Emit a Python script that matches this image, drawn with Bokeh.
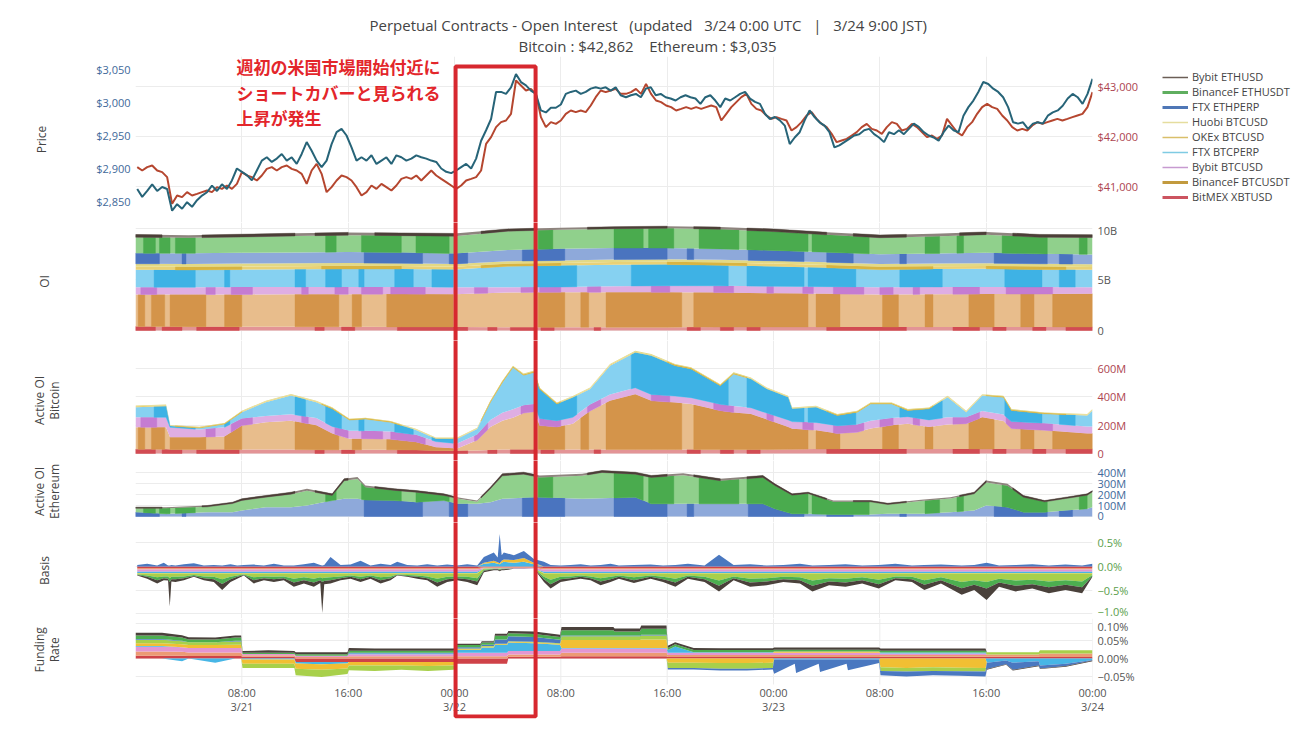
import numpy as np
from bokeh.plotting import figure
from bokeh.layouts import column, row
from bokeh.models import (Range1d, LinearAxis, FixedTicker, NumeralTickFormatter,
                          Legend, LegendItem, Title, Label, BoxAnnotation, Grid)
from bokeh.embed import file_html
from bokeh.resources import INLINE

# ------------------------------------------------------------------ data
# hours since 3/21 00:00 UTC
hour_ticks = [8, 16, 24, 32, 40, 48, 56, 64, 72]
hour_labels = ["08:00\n3/21", "16:00", "00:00\n3/22", "08:00", "16:00",
               "00:00\n3/23", "08:00", "16:00", "00:00\n3/24"]

series_keys = ["bitmex", "binbtc", "bybitbtc", "ftxbtc", "okex", "huobi",
               "ftxeth", "bineth", "bybiteth"]
series_names = ["BitMEX XBTUSD", "BinanceF BTCUSDT", "Bybit BTCUSD", "FTX BTCPERP",
                "OKEx BTCUSD", "Huobi BTCUSD", "FTX ETHPERP", "BinanceF ETHUSDT",
                "Bybit ETHUSD"]

# ---- price (ETH left axis, BTC right axis)
eth_price_a = [2869, 2857, 2866, 2876, 2866, 2872, 2869, 2836, 2846, 2839, 2849, 2842, 2852, 2859,
               2864, 2874, 2866, 2876, 2869, 2882, 2900, 2895, 2890, 2882, 2897, 2912, 2917, 2910,
               2915, 2922, 2912, 2917, 2907, 2922, 2940, 2927, 2912, 2902, 2912, 2937, 2955, 2960,
               2950, 2932, 2912, 2917, 2912, 2920, 2907, 2912, 2917, 2907, 2920, 2917, 2912, 2915,
               2920, 2917, 2915, 2912, 2910, 2900, 2895, 2893, 2897, 2902, 2907, 2900, 2915, 2942,
               2958, 2975, 3016, 3016, 3013, 3023, 3043, 3031, 3026, 3018, 3013, 2988, 2985, 2992,
               2992, 2997, 3013, 3016, 3018, 3013, 3016, 3021, 3023, 3021, 3023, 3018, 3023, 3011]
eth_price_b = [3008, 3011, 3013, 3008, 3021, 3023, 3011, 3013, 3008, 3006, 3003, 3008, 3011, 3008,
               3006, 2998, 3008, 3011, 3003, 2993, 3006, 3003, 3008, 3013, 3016, 3006, 3001, 2998,
               2983, 2975, 2978, 2973, 2965, 2937, 2947, 2955, 2973, 2988, 2978, 2970, 2965, 2955,
               2932, 2935, 2940, 2945, 2950, 2952, 2958, 2960, 2952, 2947, 2940, 2955, 2952, 2958,
               2952, 2960, 2968, 2963, 2955, 2950, 2947, 2942, 2955, 2965, 2958, 2955, 2980, 2993,
               3003, 3016, 3031, 3028, 3021, 3016, 3008, 2993, 2970, 2968, 2970, 2960, 2968, 2970,
               2968, 2980, 2985, 2988, 2995, 3006, 3013, 3008, 2998, 3013, 3036]
btc_price_a = [41387, 41320, 41387, 41420, 41320, 41287, 41187, 40653, 40820, 40787, 40887, 40820,
               40853, 40887, 40920, 40887, 40987, 40953, 41020, 40953, 41053, 41287, 41220, 41187,
               41120, 41220, 41353, 41387, 41320, 41387, 41420, 41353, 41320, 41253, 41053, 41320,
               41453, 41253, 40887, 40987, 41120, 41220, 41187, 41120, 40987, 40820, 40887, 41020,
               40953, 41053, 40987, 40920, 41020, 41153, 41187, 41153, 41220, 41120, 41220, 41320,
               41220, 41153, 41087, 41020, 40953, 41020, 41120, 41153, 41187, 41320, 41853, 41987,
               42187, 42287, 42320, 42453, 43120, 43020, 42920, 42953, 42853, 42387, 42187, 42287,
               42253, 42320, 42453, 42520, 42487, 42520, 42487, 42620, 42787, 42920, 42887, 42920,
               42953, 42853]
btc_price_b = [42853, 42887, 42953, 42853, 43053, 42853, 42720, 42687, 42620, 42587, 42520, 42553,
               42587, 42553, 42587, 42553, 42587, 42620, 42587, 42320, 42453, 42587, 42687, 42787,
               42853, 42653, 42553, 42520, 42420, 42353, 42387, 42353, 42320, 42120, 42187, 42287,
               42420, 42487, 42353, 42253, 42187, 42053, 41887, 41920, 41953, 42020, 42087, 42187,
               42253, 42153, 42120, 42053, 42187, 42287, 42253, 42120, 42153, 42253, 42187, 42087,
               41987, 42020, 41953, 42020, 42353, 42220, 42087, 42020, 42187, 42287, 42453, 42587,
               42653, 42587, 42553, 42420, 42320, 42187, 42120, 42153, 42120, 42220, 42287, 42253,
               42287, 42320, 42353, 42320, 42353, 42387, 42420, 42453, 42587, 42887]

# ---- open interest (billion USD), every 4 hours
oi_hours = [0, 4, 8, 12, 16, 20, 24, 28, 32, 36, 40, 44, 48, 52, 56, 60, 64, 68, 72]
oi_bitmex = [0.39, 0.38, 0.38, 0.37, 0.36, 0.35, 0.35, 0.33, 0.33, 0.33, 0.33, 0.34, 0.35, 0.35, 0.35, 0.35, 0.35, 0.35, 0.35]
oi_binbtc = [3.14, 3.14, 3.16, 3.18, 3.20, 3.22, 3.20, 3.40, 3.43, 3.42, 3.41, 3.38, 3.30, 3.25, 3.18, 3.20, 3.22, 3.22, 3.25]
oi_bybitbtc = [0.72, 0.72, 0.72, 0.71, 0.70, 0.70, 0.70, 0.52, 0.50, 0.60, 0.65, 0.66, 0.68, 0.70, 0.72, 0.72, 0.70, 0.70, 0.65]
oi_ftxbtc = [1.70, 1.70, 1.72, 1.75, 1.78, 1.76, 1.72, 2.05, 2.12, 2.10, 2.08, 2.02, 1.95, 1.85, 1.72, 1.75, 1.78, 1.72, 1.70]
oi_okex = [0.30, 0.30, 0.30, 0.30, 0.30, 0.29, 0.29, 0.25, 0.25, 0.26, 0.26, 0.27, 0.28, 0.28, 0.29, 0.28, 0.28, 0.28, 0.28]
oi_huobi = [0.29, 0.29, 0.29, 0.28, 0.28, 0.27, 0.27, 0.24, 0.24, 0.25, 0.25, 0.26, 0.27, 0.27, 0.27, 0.27, 0.27, 0.27, 0.27]
oi_ftxeth = [1.04, 1.04, 1.05, 1.06, 1.08, 1.06, 1.02, 1.10, 1.14, 1.12, 1.10, 1.07, 1.02, 0.98, 0.95, 0.98, 1.02, 0.98, 0.96]
oi_bineth = [1.57, 1.52, 1.55, 1.62, 1.65, 1.65, 1.70, 1.85, 1.87, 1.90, 1.95, 1.92, 1.85, 1.70, 1.62, 1.66, 1.78, 1.62, 1.66]
oi_bybiteth = [0.26, 0.26, 0.27, 0.27, 0.27, 0.27, 0.27, 0.22, 0.20, 0.20, 0.20, 0.22, 0.25, 0.26, 0.27, 0.27, 0.27, 0.28, 0.28]

# ---- active OI bitcoin (million USD)
act_btc_hours = [0, 2.3, 2.6, 4.8, 6.7, 8.0, 9.8, 11.7, 13.6, 14.8, 16.1, 17.3, 19.2, 21.1, 22.6, 24.2,
                 25.7, 26.7, 27.6, 28.4, 29.2, 30.0, 30.4, 31.7, 32.9, 34.2, 35.7, 37.6, 38.8, 40.6,
                 41.8, 44.0, 45.0, 46.3, 47.5, 49.1, 49.4, 51.2, 52.8, 54.3, 55.3, 56.9, 58.1, 59.7,
                 61.1, 62.5, 63.7, 65.3, 65.9, 68.4, 71.6, 72.0]
act_bitmex = [30, 30, 28, 28, 28, 28, 28, 28, 26, 26, 26, 26, 26, 25, 22, 20, 22, 25, 28, 28, 28, 28, 28, 28, 28, 28,
              28, 28, 28, 28, 28, 28, 28, 28, 28, 30, 30, 32, 32, 32, 32, 32, 32, 32, 32, 32, 32, 32, 32, 32, 32, 32]
act_binbtc = [155, 155, 87, 87, 92, 169, 192, 204, 174, 115, 79, 79, 74, 57, 22, 15, 72, 162, 204, 225, 257, 267,
              169, 159, 182, 272, 344, 391, 344, 332, 321, 274, 262, 250, 212, 157, 145, 132, 109, 118, 144, 168,
              178, 155, 173, 178, 223, 198, 144, 132, 109, 109]
act_bybitbtc = [70, 70, 70, 55, 65, 50, 45, 45, 50, 50, 55, 55, 55, 50, 40, 35, 40, 50, 55, 60, 55, 55, 50, 45, 45, 45,
                45, 45, 45, 45, 45, 45, 45, 45, 45, 50, 50, 55, 55, 55, 55, 50, 50, 50, 50, 45, 45, 45, 50, 50, 50, 50]
act_ftxbtc = [72, 79, 9, 10, 23, 45, 97, 132, 112, 125, 76, 83, 65, 34, 21, 35, 39, 125, 215, 295, 212, 223, 208,
              118, 140, 110, 203, 249, 273, 215, 203, 132, 226, 203, 170, 160, 90, 108, 72, 87, 119, 100, 44, 78,
              142, 37, 109, 122, 78, 66, 77, 113]
act_okex = [6, 6, 4, 4, 4, 5, 5, 6, 5, 5, 5, 5, 5, 4, 4, 4, 4, 5, 6, 6, 6, 6, 5, 5, 5, 5,
            6, 6, 6, 6, 6, 5, 6, 6, 5, 5, 5, 5, 5, 5, 5, 5, 5, 5, 5, 5, 5, 5, 5, 5, 5, 5]
act_huobi = [5, 5, 4, 4, 4, 5, 5, 5, 5, 5, 5, 5, 5, 4, 4, 4, 4, 5, 5, 6, 6, 6, 5, 5, 5, 5,
             6, 6, 6, 6, 5, 5, 6, 5, 5, 5, 5, 5, 5, 5, 5, 5, 5, 5, 5, 5, 5, 5, 5, 5, 5, 5]

# ---- active OI ethereum (million USD)
act_eth_hours = [0, 2.3, 5.4, 7.3, 8.0, 9.8, 11.7, 12.9, 14.8, 15.7, 16.7, 17.3, 19.5, 21.1, 23.2, 24.2, 25.7,
                 26.7, 27.6, 29.2, 30.4, 33.6, 35.1, 37.6, 38.8, 41.2, 44.0, 47.2, 48.1, 49.4, 50.6, 52.5,
                 55.3, 56.6, 59.1, 61.3, 63.1, 64.0, 65.6, 66.8, 68.4, 70.0, 71.6, 72.0]
act_ftxeth = [39, 24, 39, 39, 55, 85, 85, 100, 145, 161, 161, 150, 145, 130, 145, 115, 115, 130, 161, 170, 176, 161,
              165, 176, 115, 115, 115, 115, 70, 24, 24, 18, 18, 24, 24, 39, 55, 100, 85, 39, 39, 55, 70, 85]
act_bineth = [36, 51, 49, 79, 91, 91, 118, 134, 46, 164, 179, 117, 92, 91, 46, 49, 18, 122, 209, 215, 179, 209,
              235, 209, 240, 261, 210, 240, 212, 170, 185, 115, 115, 85, 116, 125, 151, 209, 194, 137, 94, 109,
              124, 139]
act_bybiteth = [10, 10, 12, 12, 15, 15, 18, 18, 15, 18, 18, 15, 15, 15, 15, 12, 12, 15, 18, 18, 18, 18, 18, 18, 18,
                18, 18, 18, 15, 12, 12, 12, 12, 12, 12, 12, 15, 18, 18, 15, 12, 12, 12, 12]

# ---- basis (%)
basis_hours = [0.13, 0.88, 1.63, 2.13, 2.45, 2.58, 2.70, 3.01, 3.64, 4.39, 5.14, 5.89, 6.52, 7.15, 7.65, 8.15,
               8.90, 9.66, 10.41, 11.16, 11.91, 12.67, 13.42, 13.90, 14.05, 14.20, 14.67, 15.43, 16.18, 16.93,
               17.68, 18.44, 19.19, 19.69, 20.44, 21.20, 21.95, 22.70, 23.45, 24.20, 24.96, 25.71, 26.21, 26.96,
               27.25, 27.40, 27.55, 27.71, 28.47, 29.22, 29.97, 30.73, 31.23, 31.98, 32.73, 33.49, 34.24, 34.99,
               35.74, 36.37, 37.50, 38.75, 39.69, 40.62, 41.56, 42.81, 43.90, 45.00, 46.24, 47.49, 48.74, 49.99,
               50.93, 52.18, 53.42, 54.67, 55.92, 57.17, 58.42, 59.35, 60.60, 62.16, 63.10, 64.03, 64.97, 66.22,
               67.47, 68.72, 69.97, 71.22, 72.00]
basis_low = [-0.19, -0.26, -0.36, -0.29, -0.30, -0.85, -0.32, -0.33, -0.29, -0.22, -0.29, -0.33, -0.50, -0.33,
             -0.26, -0.19, -0.36, -0.29, -0.33, -0.29, -0.43, -0.36, -0.43, -0.35, -0.99, -0.38, -0.36, -0.29,
             -0.26, -0.33, -0.26, -0.36, -0.29, -0.19, -0.22, -0.26, -0.29, -0.43, -0.33, -0.29, -0.33, -0.40,
             -0.12, -0.08, -0.08, -0.10, -0.08, -0.08, -0.05, -0.05, -0.04, -0.33, -0.47, -0.33, -0.29, -0.26,
             -0.29, -0.40, -0.33, -0.26, -0.35, -0.26, -0.33, -0.43, -0.26, -0.33, -0.53, -0.29, -0.43, -0.40,
             -0.33, -0.36, -0.53, -0.40, -0.43, -0.36, -0.47, -0.29, -0.33, -0.50, -0.36, -0.60, -0.50, -0.71,
             -0.43, -0.53, -0.47, -0.57, -0.50, -0.57, -0.22]
basis_bitmex = [-0.03] * 42 + [-0.02] * 9 + [-0.03] * 40
basis_binbtc = [-0.035] * 42 + [-0.01] * 9 + [-0.035] * 40
basis_bybitbtc = [-0.045] * 42 + [-0.01] * 9 + [-0.045] * 40
basis_ftxbtc = [-0.03] * 42 + [0.06, 0.08, 0.06, 0.05, 0.08, 0.10, 0.08, 0.10, 0.05] + [-0.03] * 40
basis_okex = [-0.01] * 42 + [0.02, 0.04, 0.03, 0.02, 0.04, 0.05, 0.06, 0.08, 0.03] + [-0.01] * 40
basis_huobi = [-0.02, -0.04, -0.08, -0.06, -0.06, -0.10, -0.07, -0.07, -0.06, -0.03, -0.06, -0.07, -0.12, -0.07,
               -0.04, -0.02, -0.08, -0.06, -0.07, -0.06, -0.11, -0.08, -0.11, -0.08, -0.10, -0.09, -0.08, -0.06,
               -0.04, -0.07, -0.04, -0.08, -0.06, -0.02, -0.03, -0.04, -0.06, -0.11, -0.07, -0.06, -0.07, -0.10,
               -0.03, -0.01, -0.01, -0.02, -0.01, -0.01, 0.0, 0.0, 0.0, -0.07, -0.13, -0.07, -0.06, -0.04, -0.06,
               -0.10, -0.07, -0.04, -0.08, -0.04, -0.07, -0.11, -0.04, -0.07, -0.15, -0.06, -0.11, -0.10, -0.07,
               -0.08, -0.15, -0.10, -0.11, -0.08, -0.13, -0.06, -0.07, -0.14, -0.08, -0.18, -0.14, -0.18, -0.11,
               -0.15, -0.13, -0.17, -0.14, -0.17, -0.03]
basis_ftxeth = [0.03, 0.06, 0.02, 0.08, 0.02, 0.02, 0.03, 0.02, 0.05, 0.07, 0.02, 0.03, 0.02, 0.05, 0.02, 0.03,
                0.04, 0.02, 0.06, 0.02, 0.02, 0.05, 0.08, 0.03, 0.02, 0.03, 0.20, 0.03, 0.04, 0.12, 0.02, 0.06,
                0.03, 0.10, 0.03, 0.02, 0.05, 0.02, 0.04, 0.02, 0.05, 0.02, 0.12, 0.18, 0.10, 0.62, 0.12, 0.15,
                0.10, 0.15, 0.08, 0.10, 0.03, 0.02, 0.03, 0.05, 0.02, 0.03, 0.06, 0.02, 0.03, 0.04, 0.02, 0.03,
                0.06, 0.02, 0.25, 0.03, 0.05, 0.02, 0.03, 0.06, 0.02, 0.03, 0.05, 0.02, 0.03, 0.06, 0.02, 0.03,
                0.04, 0.02, 0.03, 0.08, 0.02, 0.03, 0.05, 0.02, 0.04, 0.02, 0.06]
basis_bineth = [-0.01, -0.03, -0.06, -0.04, -0.05, -0.08, -0.05, -0.05, -0.04, -0.02, -0.04, -0.05, -0.10, -0.05,
                -0.03, -0.01, -0.06, -0.04, -0.05, -0.04, -0.08, -0.06, -0.08, -0.06, -0.08, -0.07, -0.06, -0.04,
                -0.03, -0.05, -0.03, -0.06, -0.04, -0.01, -0.02, -0.03, -0.04, -0.08, -0.05, -0.04, -0.05, -0.07,
                -0.02, -0.01, -0.01, -0.02, -0.01, -0.01, 0.0, 0.0, 0.0, -0.05, -0.10, -0.05, -0.04, -0.03, -0.04,
                -0.07, -0.05, -0.03, -0.06, -0.03, -0.05, -0.08, -0.03, -0.05, -0.11, -0.04, -0.08, -0.07, -0.05,
                -0.06, -0.11, -0.07, -0.08, -0.06, -0.10, -0.04, -0.05, -0.10, -0.06, -0.13, -0.10, -0.14, -0.08,
                -0.11, -0.10, -0.12, -0.10, -0.12, -0.02]

# ---- funding rate (%)
fund_hours = [0, 2, 3.5, 4, 6, 7.5, 7.95, 8.05, 10, 11.95, 12.05, 14, 15.95, 16.05, 18, 20, 22, 23.95, 24.05,
              25.95, 26.05, 26.95, 27.05, 27.95, 28.05, 30, 31.95, 32.05, 34, 35.95, 36.05, 37.95, 38.05, 39.95,
              40.05, 40.6, 42, 44, 46, 47.95, 48.05, 49.6, 49.7, 51.4, 51.5, 53.5, 53.6, 55.95, 56.05, 58, 60,
              62, 63.95, 64.05, 65.5, 66, 67.95, 68.05, 70, 72]
fund_bitmex = [.008, .008, .008, .007, .007, .007, .007, .005, .005, .005, -.01, -.01, -.01, -.01, -.01, -.01,
               -.01, -.01, -.015, -.015, -.015, -.015, -.015, -.015, .005, .005, .005, .006, .006, .006, .006,
               .006, .006, .006, .004, .004, .004, .004, .004, .004, .004, .004, .004, .004, .004, .004, .004,
               .004, .005, .005, .005, .005, .005, .005, .005, .005, .005, .004, .004, .004]
fund_binbtc = [.012, .012, .011, .01, .01, .01, .01, .004, .004, .004, .004, .004, .004, .006, .006, .006, .006,
               .006, .006, .006, .006, .006, .006, .006, .006, .006, .006, .01, .01, .01, .01, .01, .01, .01,
               .006, .006, .006, .006, .006, .006, .006, .006, .006, .006, .006, .006, .006, .006, .005, .005,
               .005, .005, .005, .006, .006, .006, .006, .01, .01, .01]
fund_bybitbtc = [.013, .013, .013, .013, .013, .013, .013, .004, .004, .004, .004, .004, .004, .006, .006, .006,
                 .006, .006, .01, .01, .01, .01, .01, .01, .01, .01, .01, .012, .012, .012, .012, .012, .012,
                 .012, .006, .006, .006, .006, .006, .006, .006, .006, .006, .006, .006, .006, .006, .006, .004,
                 .004, .004, .004, .004, 0, 0, 0, 0, 0, 0, 0]
fund_ftxbtc = [.002, .002, -.008, 0, -.012, 0, 0, -.003, -.003, -.003, -.004, -.006, -.004, .002, .002, .002,
               .002, .002, .008, .008, .015, .015, .022, .022, .024, .022, .018, .002, .002, .002, .002, .002,
               .002, .002, .008, .018, .002, .002, .002, .002, -.003, -.003, -.003, -.003, -.003, -.003, -.003,
               -.003, .003, .003, .003, .003, .003, -.012, -.006, -.012, -.008, -.02, -.015, -.004]
fund_okex = [.008, .008, .008, .008, .008, .009, .009, -.012, -.012, -.012, -.015, -.016, -.014, -.01, -.01, -.01,
             -.011, -.01, .002, .002, .002, .002, .002, .002, .002, .002, .002, .022, .022, .022, .022, .022,
             .024, .024, -.012, -.012, -.012, -.013, -.013, -.012, .004, .004, .004, .004, .004, .004, .004,
             .004, -.025, -.027, -.025, -.026, -.027, 0, 0, 0, 0, 0, 0, 0]
fund_huobi = [.01, .01, .009, .008, .008, .009, .009, -.012, -.012, -.012, -.018, -.02, -.016, -.013, -.015, -.012,
              -.014, -.012, .002, .002, .002, .002, .002, .002, .002, .002, .002, .011, .011, .011, .011, .011,
              .011, .011, -.015, -.015, -.015, -.016, -.016, -.015, 0, 0, 0, 0, 0, 0, 0, 0, -.01, -.01, -.01,
              -.01, -.01, .007, .007, .007, .007, .009, .009, .009]
fund_ftxeth = [.002, .002, .001, 0, 0, .002, .002, 0, 0, 0, 0, 0, 0, .002, .002, .002, .002, .002, .004, .004,
               .004, .004, .012, .012, .014, .014, .01, .002, .002, .002, .002, .002, .002, .002, -.004, -.004,
               -.004, -.005, -.005, -.004, -.04, -.012, -.038, -.012, -.035, -.012, -.03, -.01, -.012, -.014,
               -.012, -.013, -.014, -.018, -.01, -.02, -.012, -.008, -.006, -.002]
fund_bineth = [.01, .01, .009, .008, .008, .009, .009, .003, .003, .003, .004, .004, .004, .006, .006, .006, .006,
               .006, .006, .006, .006, .006, .01, .01, .008, .008, .008, .015, .015, .015, .011, .011, .017, .017,
               .006, .006, .006, .006, .006, .006, .005, .005, .005, .005, .005, .005, .005, .005, .005, .005,
               .005, .005, .005, 0, 0, 0, 0, 0, 0, 0]
fund_bybiteth = [.008, .008, .007, .006, .005, .006, .006, .005, .007, .005, .006, .006, .006, .008, .006, .006,
                 .006, .006, .004, .004, .004, .004, .006, .006, .007, .007, .006, .009, .009, .009, .009, .009,
                 .009, .009, .006, .006, .006, .005, .005, .005, .006, .006, .006, .006, .006, .006, .006, .006,
                 .006, .006, .006, .006, .006, -.002, -.002, -.002, -.002, -.002, -.002, -.002]

# hour intervals where each series is drawn in its darker shade (OI / active OI panels)
BANDS = {
    "bitmex": [(0.0, 1.5), (2.0, 3.5), (4.6, 7.8), (13.5, 14.2), (15.5, 16.5), (19.7, 25.0), (26.5, 27.2),
               (28.2, 30.0), (30.5, 31.5), (34.5, 35.0), (41.5, 42.5), (44.0, 45.0), (46.0, 47.0), (52.0, 58.0),
               (61.5, 63.5), (64.5, 65.5), (67.5, 68.5), (70.0, 72.0)],
    "binbtc": [(0.2, 0.7), (1.2, 2.2), (2.6, 5.3), (6.7, 8.0), (12.0, 15.3), (16.3, 17.0), (18.9, 23.9),
               (30.3, 32.3), (33.5, 34.1), (35.4, 41.1), (42.0, 50.6), (51.2, 53.0), (56.2, 57.4), (59.4, 60.0),
               (62.7, 64.6), (66.6, 67.6), (69.0, 72.0)],
    "bybitbtc": [(0.4, 1.6), (5.3, 6.0), (7.2, 8.8), (12.5, 13.0), (15.0, 16.0), (17.0, 18.6), (19.2, 21.8),
                 (25.5, 26.5), (29.0, 30.2), (30.4, 32.0), (34.0, 35.0), (38.8, 40.2), (43.5, 45.0),
                 (47.5, 48.0), (50.2, 51.0), (52.5, 54.8), (56.0, 57.0), (58.5, 59.0), (61.5, 63.5), (65.5, 69.0)],
    "ftxbtc": [(1.4, 4.5), (6.7, 7.1), (12.0, 12.8), (14.3, 15.5), (16.8, 17.2), (19.5, 20.9), (22.3, 23.9),
               (30.1, 33.2), (37.3, 44.6), (46.0, 50.3), (50.6, 54.2), (57.5, 60.7), (65.4, 68.2), (69.5, 70.7)],
    "okex": [(3.0, 8.0), (14.0, 20.0), (26.0, 32.0), (40.0, 46.0), (52.0, 60.0), (64.0, 70.0)],
    "ftxeth": [(0.0, 1.8), (3.5, 3.8), (17.2, 21.6), (23.6, 25.0), (29.1, 32.3), (36.0, 40.0), (41.5, 42.0),
               (46.1, 50.3), (52.0, 54.0), (57.5, 58.0), (64.6, 68.6), (69.5, 70.5)],
    "bineth": [(0.6, 1.5), (1.8, 2.6), (3.0, 4.5), (14.3, 15.1), (17.0, 20.0), (21.1, 23.6), (30.3, 31.4),
               (36.0, 38.2), (38.6, 40.5), (42.4, 45.4), (46.0, 50.6), (50.9, 55.2), (59.4, 60.5), (61.8, 62.3),
               (65.2, 68.6), (71.0, 71.6)],
    "bybiteth": [(0.0, 2.0), (5.0, 12.0), (13.5, 16.0), (18.0, 24.0), (26.0, 30.0), (34.0, 40.0), (42.0, 44.0),
                 (46.0, 52.0), (54.0, 58.0), (62.0, 64.0), (66.0, 72.0)],
}

# ------------------------------------------------------------------ style
FONT = "Open Sans"
GRID_COLOR = "#ececec"
FRAME_W = 957
BORDER_L, BORDER_R = 135, 199
HL_COLOR = "#d7282f"
HL_LEFT, HL_RIGHT = 24.08, 30.1
ETH_BLUE = "#41699a"
BTC_RED = "#ad4450"
TEXT_GRAY = "#444444"

SHADES = {  # (dark, light)
    "bitmex": ("#d24b53", "#e39496"),
    "binbtc": ("#d4944a", "#e8bd8c"),
    "bybitbtc": ("#c57cd2", "#dfaee3"),
    "ftxbtc": ("#3eb2e5", "#86d1f1"),
    "okex": ("#d8b441", "#e9d176"),
    "huobi": ("#e3d985", "#e3d985"),
    "ftxeth": ("#4a74bf", "#8ea9da"),
    "bineth": ("#4aab4e", "#90d08c"),
    "bybiteth": ("#4c3f38", "#8e847e"),
}
FLAT = {
    "bitmex": "#cf4248", "binbtc": "#ec9a74", "bybitbtc": "#e396d2", "ftxbtc": "#47b6e6",
    "okex": "#f1bf33", "huobi": "#a8d04b", "ftxeth": "#4a78c0", "bineth": "#4cae50", "bybiteth": "#4a413b",
}
LEGEND_STYLE = {
    "Bybit ETHUSD": ("#6b5e56", 1.5), "BinanceF ETHUSDT": ("#5fae5f", 3), "FTX ETHPERP": ("#4f77b6", 3),
    "Huobi BTCUSD": ("#e5dd9e", 1.5), "OKEx BTCUSD": ("#d9bf6a", 1.5), "FTX BTCPERP": ("#7fcbe3", 1.5),
    "Bybit BTCUSD": ("#c79ad0", 1.5), "BinanceF BTCUSDT": ("#c29a3e", 3), "BitMEX XBTUSD": ("#cc5460", 3),
}

X_RANGE = Range1d(0, 72)


def base_fig(frame_h, y0, y1, top=0, bottom=0, right=BORDER_R, vgrid=True, **kw):
    p = figure(frame_width=FRAME_W, frame_height=frame_h, x_range=X_RANGE,
               y_range=Range1d(y0, y1), x_axis_location=None, y_axis_location=None,
               toolbar_location=None, output_backend="svg",
               min_border_left=BORDER_L, min_border_right=right,
               min_border_top=top, min_border_bottom=bottom,
               outline_line_color=None, background_fill_color="white",
               border_fill_color="white", **kw)
    p.center = [c for c in p.center if not isinstance(c, Grid)]
    if vgrid:
        p.add_layout(Grid(dimension=0, ticker=FixedTicker(ticks=hour_ticks),
                          grid_line_color=GRID_COLOR, grid_line_width=1))
    return p


def style_axis(ax, color):
    ax.axis_line_color = None
    ax.major_tick_line_color = None
    ax.minor_tick_line_color = None
    ax.major_tick_out = 0
    ax.major_tick_in = 0
    ax.major_label_text_font = FONT
    ax.major_label_text_font_size = "11px"
    ax.major_label_text_color = color
    ax.major_label_standoff = 5
    ax.axis_label_text_font = FONT
    ax.axis_label_text_font_size = "12px"
    ax.axis_label_text_font_style = "normal"
    ax.axis_label_text_color = TEXT_GRAY
    ax.axis_label_text_line_height = 0.83


def side_label(p, text, standoff):
    ax = LinearAxis(ticker=FixedTicker(ticks=[]), axis_label=text)
    style_axis(ax, TEXT_GRAY)
    ax.major_label_standoff = 0
    ax.axis_label_standoff = standoff
    p.add_layout(ax, "left")


def right_axis(p, ticks, labels, color):
    ax = LinearAxis(ticker=FixedTicker(ticks=ticks),
                    major_label_overrides=dict(zip(ticks, labels)))
    style_axis(ax, color)
    p.add_layout(ax, "right")
    p.add_layout(Grid(dimension=1, ticker=FixedTicker(ticks=ticks),
                      grid_line_color=GRID_COLOR, grid_line_width=1))


def highlight(p, top, bottom):
    p.add_layout(BoxAnnotation(left=HL_LEFT, right=HL_RIGHT, top=top, bottom=bottom,
                               fill_color=None, fill_alpha=0, line_color=HL_COLOR,
                               line_alpha=1.0, line_width=4, level="overlay"))


def band_patches(t, lo, hi, spans):
    xs, ys = [], []
    for a, b in spans:
        a, b = max(a, t[0]), min(b, t[-1])
        if b <= a:
            continue
        inner = t[(t > a) & (t < b)]
        xx = np.concatenate([[a], inner, [b]])
        l = np.interp(xx, t, lo)
        h = np.interp(xx, t, hi)
        xs.append(list(np.concatenate([xx, xx[::-1]])))
        ys.append(list(np.concatenate([h, l[::-1]])))
    return xs, ys


def stacked(p, t, layers):
    t = np.asarray(t, float)
    base = np.zeros_like(t)
    for key, vals in layers:
        top = base + np.asarray(vals, float)
        dark, light = SHADES[key]
        p.varea(x=t, y1=base, y2=top, fill_color=light)
        if key in BANDS:
            xs, ys = band_patches(t, base, top, BANDS[key])
            if xs:
                p.patches(xs, ys, fill_color=dark, line_color=dark, line_width=0.4)
        base = top


def signed_stack(p, t, layers):
    t = np.asarray(t, float)
    pos = np.zeros_like(t)
    neg = np.zeros_like(t)
    for key, vals in layers:
        v = np.asarray(vals, float)
        pv, nv = np.clip(v, 0, None), np.clip(v, None, 0)
        if pv.any():
            p.varea(x=t, y1=pos, y2=pos + pv, fill_color=FLAT[key])
            pos = pos + pv
        if nv.any():
            p.varea(x=t, y1=neg, y2=neg + nv, fill_color=FLAT[key])
            neg = neg + nv


# ------------------------------------------------------------------ price panel
eth_t = np.concatenate([np.linspace(0.13, 36.5, len(eth_price_a)), np.linspace(36.9, 72, len(eth_price_b))])
btc_t = np.concatenate([np.linspace(0.13, 36.5, len(btc_price_a)), np.linspace(36.9, 72, len(btc_price_b))])
eth_vals = eth_price_a + eth_price_b
btc_vals = btc_price_a + btc_price_b

NB = "\u00a0"
TITLE_1 = f"Perpetual Contracts - Open Interest {NB}{NB}(updated {NB}{NB}3/24 0:00 UTC {NB}{NB}| {NB}{NB}3/24 9:00 JST)"
TITLE_2 = f"Bitcoin : $42,862 {NB}{NB}{NB}Ethereum : $3,035"

p_price = base_fig(166, 2818.2, 3069.7, top=56, right=60, title=TITLE_1)
p_price.title.align = "left"
p_price.title.offset = 234
p_price.title.text_font = FONT
p_price.title.text_font_size = "15px"
p_price.title.text_font_style = "normal"
p_price.title.text_color = TEXT_GRAY
p_price.title.standoff = -4
p_price.add_layout(Title(text=TITLE_2, align="left", offset=383, text_font=FONT,
                         text_font_size="15px", text_font_style="normal",
                         text_color=TEXT_GRAY, standoff=2), "above")
p_price.extra_y_ranges = {"btc": Range1d(40280, 43600)}

eth_ticks = [2850, 2900, 2950, 3000, 3050]
btc_ticks = [41000, 42000, 43000]
ax_eth = LinearAxis(ticker=FixedTicker(ticks=eth_ticks), formatter=NumeralTickFormatter(format="$0,0"),
                    axis_label="Price")
style_axis(ax_eth, ETH_BLUE)
ax_eth.axis_label_standoff = 43
p_price.add_layout(ax_eth, "left")
ax_btc = LinearAxis(y_range_name="btc", ticker=FixedTicker(ticks=btc_ticks),
                    formatter=NumeralTickFormatter(format="$0,0"))
style_axis(ax_btc, BTC_RED)
p_price.add_layout(ax_btc, "right")
p_price.add_layout(Grid(dimension=1, ticker=FixedTicker(ticks=btc_ticks), y_range_name="btc",
                        grid_line_color=GRID_COLOR, grid_line_width=1))

p_price.line(btc_t, btc_vals, line_color="#b5462f", line_width=2, y_range_name="btc")
p_price.line(eth_t, eth_vals, line_color="#276478", line_width=2)

NOTE_X = 7.6
note_lines = ["週初の米国市場開始付近に", "ショートカバーと見られる", "上昇が発生"]
note_y = [3053.8, 3015.9, 2978.0]
for txt, yv in zip(note_lines, note_y):
    p_price.add_layout(Label(x=NOTE_X, y=yv, text=txt, text_font="Noto Sans CJK JP",
                             text_font_size="17px", text_font_style="bold",
                             text_color="#e3262b", text_baseline="middle"))
highlight(p_price, 3054.5, 2000)

# legend sits in its own narrow figure to the right of the price panel
p_leg = figure(frame_width=145, frame_height=166, x_range=Range1d(0, 1), y_range=Range1d(0, 1),
               x_axis_location=None, y_axis_location=None, toolbar_location=None,
               output_backend="svg", min_border_left=0, min_border_right=0, min_border_top=56,
               min_border_bottom=0, outline_line_color=None, title_location=None,
               background_fill_color="white", border_fill_color="white")
p_leg.center = [c for c in p_leg.center if not isinstance(c, Grid)]
legend_items = []
for name in reversed(series_names):
    col, w = LEGEND_STYLE[name]
    # sample line kept outside the visible range: it only feeds the legend swatch
    r = p_leg.line([5, 6], [5, 5], line_color=col, line_width=w)
    legend_items.append(LegendItem(label=name, renderers=[r]))
legend = Legend(items=legend_items, location=(7, 15), padding=3, margin=0, spacing=0,
                glyph_width=26, glyph_height=14, label_height=14, label_standoff=4,
                label_text_font=FONT, label_text_font_size="11px", label_text_color=TEXT_GRAY,
                border_line_alpha=0, background_fill_alpha=0)
p_leg.add_layout(legend)

# ------------------------------------------------------------------ OI panel
p_oi = base_fig(118, -0.98, 10.59, title_location=None)
side_label(p_oi, "OI", 83)
right_axis(p_oi, [0, 5, 10], ["0", "5B", "10B"], "#555555")
oi_vals = [oi_bitmex, oi_binbtc, oi_bybitbtc, oi_ftxbtc, oi_okex, oi_huobi, oi_ftxeth, oi_bineth, oi_bybiteth]
stacked(p_oi, oi_hours, list(zip(series_keys, oi_vals)))
highlight(p_oi, 100, -100)

# ------------------------------------------------------------------ active OI bitcoin
p_ab = base_fig(120, -49.4, 797.6, title_location=None)
side_label(p_ab, "Active OI\nBitcoin", 73)
right_axis(p_ab, [0, 200, 400, 600], ["0", "200M", "400M", "600M"], BTC_RED)
ab_vals = [act_bitmex, act_binbtc, act_bybitbtc, act_ftxbtc, act_okex, act_huobi]
stacked(p_ab, act_btc_hours, list(zip(series_keys[:6], ab_vals)))
highlight(p_ab, 5000, -5000)

# ------------------------------------------------------------------ active OI ethereum
p_ae = base_fig(62, -54.5, 509.1, title_location=None)
side_label(p_ae, "Active OI\nEthereum", 73)
right_axis(p_ae, [0, 100, 200, 300, 400], ["0", "100M", "200M", "300M", "400M"], ETH_BLUE)
stacked(p_ae, act_eth_hours, [("ftxeth", act_ftxeth), ("bineth", act_bineth), ("bybiteth", act_bybiteth)])
highlight(p_ae, 5000, -5000)

# ------------------------------------------------------------------ basis
p_basis = base_fig(96, -1.106, 0.936, title_location=None)
side_label(p_basis, "Basis", 83)
right_axis(p_basis, [-1.0, -0.5, 0.0, 0.5], ["\u22121.0%", "\u22120.5%", "0.0%", "0.5%"], "#5a9e4b")
basis_parts = [basis_bitmex, basis_binbtc, basis_bybitbtc, basis_ftxbtc, basis_okex,
               basis_huobi, basis_ftxeth, basis_bineth]
neg_known = np.sum([np.clip(np.asarray(v, float), None, 0) for v in basis_parts], axis=0)
basis_bybiteth = list(np.minimum(np.asarray(basis_low, float) - neg_known, 0))
signed_stack(p_basis, basis_hours, list(zip(series_keys, basis_parts + [basis_bybiteth])))
highlight(p_basis, 50, -50)

# ------------------------------------------------------------------ funding rate
FUND_LO, FUND_HI = -0.0734, 0.11299
p_fund = base_fig(100, -0.1695, FUND_HI, bottom=4, vgrid=False, title_location=None)
p_fund.segment(x0=hour_ticks, y0=[FUND_LO] * len(hour_ticks), x1=hour_ticks,
               y1=[FUND_HI] * len(hour_ticks), line_color=GRID_COLOR, line_width=1, level="underlay")
# leading no-break spaces lift the rotated label to the centre of the plotted band
PAD = NB * 12
side_label(p_fund, f"{PAD}Funding\n{PAD}Rate", 73)
right_axis(p_fund, [-0.05, 0.0, 0.05, 0.1], ["\u22120.05%", "0.00%", "0.05%", "0.10%"], "#555555")
fund_vals = [fund_bitmex, fund_binbtc, fund_bybitbtc, fund_ftxbtc, fund_okex, fund_huobi,
             fund_ftxeth, fund_bineth, fund_bybiteth]
signed_stack(p_fund, fund_hours, list(zip(series_keys, fund_vals)))
ax_x = LinearAxis(ticker=FixedTicker(ticks=hour_ticks),
                  major_label_overrides=dict(zip(hour_ticks, hour_labels)))
style_axis(ax_x, "#555555")
ax_x.major_label_text_line_height = 0.95
ax_x.major_label_standoff = -34
p_fund.add_layout(ax_x, "below")
highlight(p_fund, 5, -0.1638)

layout = column(row(p_price, p_leg, spacing=0), p_oi, p_ab, p_ae, p_basis, p_fund, spacing=0)
open("out.html", "w").write(file_html(layout, INLINE, title="Perpetual Contracts - Open Interest"))
